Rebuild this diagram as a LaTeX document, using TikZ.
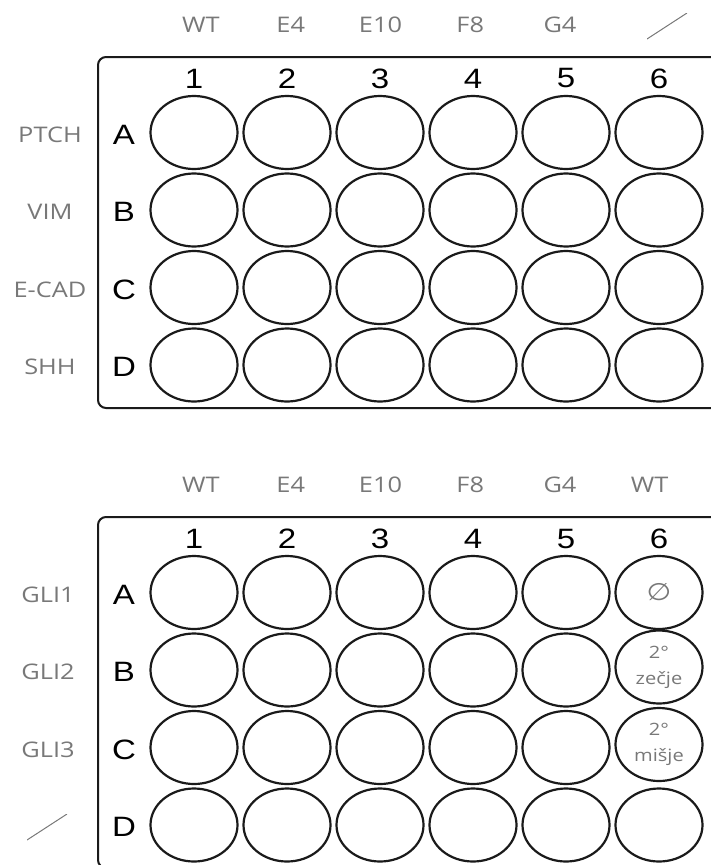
\documentclass[tikz,border=0pt]{standalone}
\usepackage{fontspec}
\setmainfont{Liberation Sans}[FakeStretch=1.18]
\newfontfamily\labelfont{Open Sans}[FakeStretch=1.18]
\newfontfamily\symfont{DejaVu Sans}[FakeStretch=1.18]
\usetikzlibrary{shapes.geometric, positioning}
\definecolor{labelgray}{HTML}{787878}
\definecolor{wellline}{HTML}{1A1A1A}
\tikzset{
  plate/.style={draw=wellline, line width=2pt, rounded corners=8pt},
  well/.style={ellipse, draw=wellline, line width=2.2pt, inner sep=0pt,
               minimum width=87pt, minimum height=73pt, text=labelgray,
               align=center, font=\labelfont\fontsize{17}{26}\selectfont},
  header/.style={text=labelgray, inner sep=0pt, font=\labelfont\fontsize{21.5}{24}\selectfont},
  gene/.style={header},
  colnum/.style={inner sep=0pt, font=\fontsize{28}{30}\selectfont},
  rowlet/.style={colnum},
  nolabel/.style={minimum width=40pt, minimum height=26pt, inner sep=0pt,
    path picture={\draw[labelgray, line width=1pt]
      (path picture bounding box.south west) -- (path picture bounding box.north east);}}
}
\begin{document}
\begin{tikzpicture}[x=1pt, y=-1pt]
  \useasboundingbox (0,0) rectangle (711,865);
  \clip (0,0) rectangle (711,865);

  % upper plate
  \draw[plate] (98,57) rectangle (800,408);
  \foreach \c/\g in {1/WT,2/E4,3/E10,4/F8,5/G4}
    \node[header] (h1-\c) at ({201+89.75*(\c-1)},25) {\g};
  \node[nolabel] (h1-6) at (667,26) {};
  \foreach \c in {1,...,6}
    \node[colnum] (n1-\c) at ({194+93*(\c-1)},78.5) {\c};
  \foreach \r/\l/\g in {1/A/PTCH,2/B/VIM,3/C/E-CAD,4/D/SHH} {
    \node[rowlet] (r1-\l) at (124,{134.5+77.5*(\r-1)}) {\l};
    \node[gene] (g1-\l) at (50,{134.5+77.5*(\r-1)}) {\g};
    \foreach \c in {1,...,6}
      \node[well] (w1-\l\c) at ({194+93*(\c-1)},{132.5+77.5*(\r-1)}) {};
  }

  % lower plate
  \begin{scope}[yshift=-460pt]
    \draw[plate] (98,57) rectangle (800,408);
    \foreach \c/\g in {1/WT,2/E4,3/E10,4/F8,5/G4,6/WT}
      \node[header] (h2-\c) at ({201+89.75*(\c-1)},25) {\g};
    \foreach \c in {1,...,6}
      \node[colnum] (n2-\c) at ({194+93*(\c-1)},78.5) {\c};
    \foreach \r/\l/\g in {1/A/GLI1,2/B/GLI2,3/C/GLI3} {
      \node[gene] (g2-\l) at (48,{134.5+77.5*(\r-1)}) {\g};
    }
    \node[nolabel] (g2-D) at (47,367) {};
    \foreach \r/\l in {1/A,2/B,3/C,4/D} {
      \node[rowlet] (r2-\l) at (124,{134.5+77.5*(\r-1)}) {\l};
      \foreach \c in {1,...,5}
        \node[well] (w2-\l\c) at ({194+93*(\c-1)},{132.5+77.5*(\r-1)}) {};
    }
    \node[well] (w2-A6) at (659,132.5) {\symfont\fontsize{24}{26}\selectfont ∅};
    \node[well] (w2-B6) at (659,207) {2°\\zečje};
    \node[well] (w2-C6) at (659,284.5) {2°\\mišje};
    \node[well] (w2-D6) at (659,365) {};
  \end{scope}
\end{tikzpicture}
\end{document}
